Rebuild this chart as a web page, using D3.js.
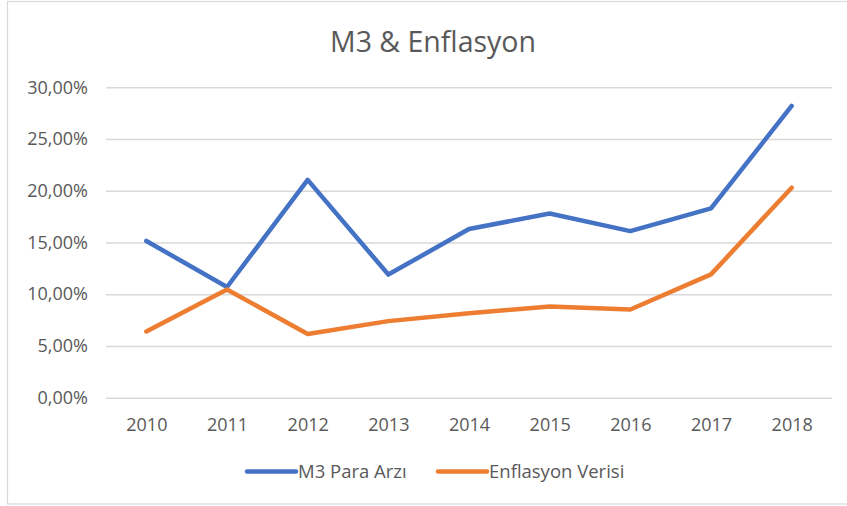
<!DOCTYPE html>
<html>
<head>
<meta charset="utf-8">
<script src="https://cdn.jsdelivr.net/npm/d3@7"></script>
<style>
  html, body { margin: 0; padding: 0; background: #fff; }
  svg { display: block; font-family: "Open Sans", "Noto Sans", sans-serif; }
</style>
</head>
<body>
<svg id="chart" width="847" height="506"></svg>
<script>
// Years on the category axis
const years = ["2010", "2011", "2012", "2013", "2014", "2015", "2016", "2017", "2018"];
// Annual M3 money supply growth (%)
const m3Values = [15.15, 10.7, 21.05, 11.9, 16.3, 17.8, 16.1, 18.3, 28.2];
// Annual inflation (%)
const inflationValues = [6.40, 10.45, 6.16, 7.40, 8.17, 8.81, 8.53, 11.92, 20.30];
// Value axis ticks (%)
const yTicks = [0, 5, 10, 15, 20, 25, 30];
const seriesNames = ["M3 Para Arzı", "Enflasyon Verisi"];
const seriesColors = ["#4472C4", "#ED7D31"];

const series = [
  { name: seriesNames[0], color: seriesColors[0], values: m3Values },
  { name: seriesNames[1], color: seriesColors[1], values: inflationValues }
];

const svg = d3.select("#chart");
const textColor = "#595959";

// Chart frame
svg.append("rect")
  .attr("x", 7.5).attr("y", 1.5)
  .attr("width", 845).attr("height", 502.5)
  .attr("fill", "#fff")
  .attr("stroke", "#d9d9d9").attr("stroke-width", 1.2);

const plot = { left: 106, right: 832, top: 87.3, bottom: 397.7 };

const x = d3.scalePoint()
  .domain(years)
  .range([plot.left, plot.right])
  .padding(0.5);

const y = d3.scaleLinear()
  .domain([0, 30])
  .range([plot.bottom, plot.top]);

// Title
svg.append("text")
  .attr("x", 433).attr("y", 52)
  .attr("text-anchor", "middle")
  .attr("font-size", 28.5)
  .attr("fill", textColor)
  .text("M3 & Enflasyon");

// Horizontal gridlines + value labels
const fmt = v => d3.format(".2f")(v).replace(".", ",") + "%";
const yAxis = d3.axisLeft(y)
  .tickValues(yTicks)
  .tickSize(-(plot.right - plot.left))
  .tickPadding(18)
  .tickFormat(fmt);

const gy = svg.append("g")
  .attr("transform", `translate(${plot.left},0)`)
  .call(yAxis);
gy.select(".domain").remove();
gy.selectAll(".tick line").attr("stroke", "#d9d9d9").attr("stroke-width", 1.5);
gy.selectAll(".tick text")
  .attr("fill", textColor)
  .attr("font-size", 18)
  .attr("font-family", "'Open Sans', sans-serif");

// Category labels
const xAxis = d3.axisBottom(x).tickSize(0).tickPadding(21);
const gx = svg.append("g")
  .attr("transform", `translate(0,${plot.bottom})`)
  .call(xAxis);
gx.select(".domain").remove();
gx.selectAll(".tick text")
  .attr("fill", textColor)
  .attr("font-size", 18)
  .attr("font-family", "'Open Sans', sans-serif");

// Series lines
const line = d3.line()
  .x((d, i) => x(years[i]))
  .y(d => y(d));

svg.selectAll("path.series")
  .data(series)
  .join("path")
  .attr("class", "series")
  .attr("d", d => line(d.values))
  .attr("fill", "none")
  .attr("stroke", d => d.color)
  .attr("stroke-width", 4.5)
  .attr("stroke-linejoin", "round")
  .attr("stroke-linecap", "round");

// Legend
const legendX = [247, 438];
const legendY = 471.5;
const lg = svg.selectAll("g.legend")
  .data(series)
  .join("g")
  .attr("class", "legend")
  .attr("transform", (d, i) => `translate(${legendX[i]},${legendY})`);
lg.append("line")
  .attr("x1", 0).attr("x2", 49)
  .attr("y1", 0).attr("y2", 0)
  .attr("stroke", d => d.color)
  .attr("stroke-width", 4.5)
  .attr("stroke-linecap", "round");
lg.append("text")
  .attr("x", 51).attr("y", 0)
  .attr("dy", "0.35em")
  .attr("font-size", 18.5)
  .attr("fill", textColor)
  .text(d => d.name);
</script>
</body>
</html>
